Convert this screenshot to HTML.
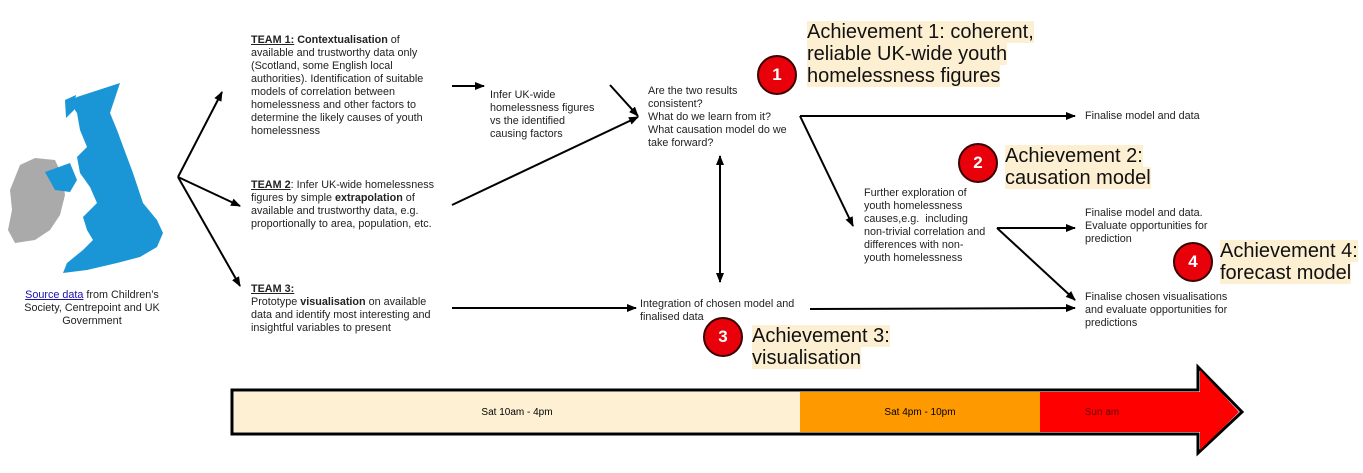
<!DOCTYPE html>
<html><head><meta charset="utf-8"><style>
body{margin:0;width:1363px;height:473px;background:#fff;position:relative;overflow:hidden;font-family:"Liberation Sans",Arial,sans-serif;color:#222}
.t{position:absolute;font-size:10.8px;line-height:13px}
.a{position:absolute;font-size:20px;line-height:22px;color:#111}
.a span{background:#fdefd2}
.c{position:absolute;width:36px;height:36px;border-radius:50%;background:#e8000b;border:2px solid #3a0000;color:#fff;font-weight:bold;font-size:17px;text-align:center;line-height:36px}
u{text-decoration:underline}
</style></head><body>
<svg width="1363" height="473" style="position:absolute;left:0;top:0">
<defs><marker id="m" markerWidth="10" markerHeight="8" refX="9" refY="4" orient="auto" markerUnits="userSpaceOnUse"><path d="M0,0 L10,4 L0,8z" fill="#000"/></marker>
<marker id="ms" markerWidth="10" markerHeight="8" refX="1" refY="4" orient="auto" markerUnits="userSpaceOnUse"><path d="M10,0 L0,4 L10,8z" fill="#000"/></marker></defs>
<path d="M20,165 L35,158 L55,160 L62,175 L65,195 L60,215 L50,230 L35,240 L15,243 L8,230 L12,210 L10,190z" fill="#aaa"/>
<path d="M45,172 L70,163 L77,180 L70,192 L55,190z" fill="#1a96d6"/>
<path d="M77,97 L120,83 L110,113 L117,130 L127,157 L133,173 L143,203 L157,220 L163,233 L157,247 L140,257 L117,263 L87,270 L63,273 L67,263 L83,250 L93,240 L87,230 L83,217 L97,203 L90,187 L80,173 L77,157 L87,147 L80,130 L77,113 L70,103z" fill="#1a96d6"/>
<path d="M65,100 L76,95 L74,110 L66,118z" fill="#1a96d6"/>
<g stroke="#000" stroke-width="2" fill="none">
<line x1="178" y1="177" x2="222" y2="92" marker-end="url(#m)"/>
<line x1="178" y1="177" x2="240" y2="206" marker-end="url(#m)"/>
<line x1="178" y1="177" x2="240" y2="286" marker-end="url(#m)"/>
<line x1="452" y1="86" x2="484" y2="86" marker-end="url(#m)"/>
<line x1="610" y1="85" x2="638" y2="116" marker-end="url(#m)"/>
<line x1="452" y1="205" x2="638" y2="117" marker-end="url(#m)"/>
<line x1="720" y1="156" x2="720" y2="282" marker-start="url(#ms)" marker-end="url(#m)"/>
<line x1="452" y1="308" x2="636" y2="308" marker-end="url(#m)"/>
<line x1="810" y1="309" x2="1075" y2="308" marker-end="url(#m)"/>
<line x1="800" y1="116" x2="1075" y2="116" marker-end="url(#m)"/>
<line x1="800" y1="116" x2="853" y2="226" marker-end="url(#m)"/>
<line x1="997" y1="228" x2="1075" y2="228" marker-end="url(#m)"/>
<line x1="997" y1="228" x2="1075" y2="300" marker-end="url(#m)"/>
</g>
<path d="M232,390 L1198,390 L1198,367 L1242,412 L1198,453 L1198,434 L232,434z" fill="#fff" stroke="#000" stroke-width="3"/>
<rect x="234" y="392" width="566" height="40" fill="#fdf0d3"/>
<rect x="800" y="392" width="240" height="40" fill="#ff9900"/>
<path d="M1040,392 L1200,392 L1200,370 L1239,412 L1200,450 L1200,432 L1040,432z" fill="#ff0000"/>
<text x="517" y="415" font-size="10" text-anchor="middle" font-family="Liberation Sans">Sat 10am - 4pm</text>
<text x="920" y="415" font-size="10" text-anchor="middle" font-family="Liberation Sans">Sat 4pm - 10pm</text>
<text x="1102" y="415" font-size="10" text-anchor="middle" fill="#600" font-family="Liberation Sans">Sun am</text>
</svg>
<div class="t" style="left:12px;top:289px;width:160px;text-align:center"><u style="color:#1a0dab">Source data</u> from Children’s Society, Centrepoint and UK Government</div>
<div class="t" style="left:251px;top:34px;width:185px"><b><u>TEAM 1:</u> Contextualisation</b> of available and trustworthy data only (Scotland, some English local authorities). Identification of suitable models of correlation between homelessness and other factors to determine the likely causes of youth homelessness</div>
<div class="t" style="left:251px;top:179px;width:200px"><b><u>TEAM 2</u></b>: Infer UK-wide homelessness figures by simple <b>extrapolation</b> of available and trustworthy data, e.g. proportionally to area, population, etc.</div>
<div class="t" style="left:251px;top:283px;width:190px"><b><u>TEAM 3:</u></b><br>Prototype <b>visualisation</b> on available data and identify most interesting and insightful variables to present</div>
<div class="t" style="left:490px;top:89px;width:105px">Infer UK-wide homelessness figures vs the identified causing factors</div>
<div class="t" style="left:648px;top:85px;width:140px">Are the two results consistent?<br>What do we learn from it?<br>What causation model do we take forward?</div>
<div class="t" style="left:640px;top:298px;width:160px">Integration of chosen model and finalised data</div>
<div class="t" style="left:864px;top:187px;width:122px">Further exploration of youth homelessness causes,e.g.&nbsp; including non-trivial correlation and differences with non-youth homelessness</div>
<div class="t" style="left:1085px;top:110px;width:150px">Finalise model and data</div>
<div class="t" style="left:1085px;top:207px;width:125px">Finalise model and data. Evaluate opportunities for prediction</div>
<div class="t" style="left:1085px;top:291px;width:145px">Finalise chosen visualisations and evaluate opportunities for predictions</div>
<div class="a" style="left:807px;top:21px;width:240px"><span>Achievement 1: coherent, reliable UK-wide youth homelessness figures</span></div>
<div class="a" style="left:1005px;top:145px;width:150px"><span>Achievement 2: causation model</span></div>
<div class="a" style="left:752px;top:325px;width:150px"><span>Achievement 3: visualisation</span></div>
<div class="a" style="left:1220px;top:240px;width:140px"><span>Achievement 4: forecast model</span></div>
<div class="c" style="left:757px;top:55px">1</div>
<div class="c" style="left:958px;top:143px">2</div>
<div class="c" style="left:703px;top:317px">3</div>
<div class="c" style="left:1173px;top:242px">4</div>
</body></html>
